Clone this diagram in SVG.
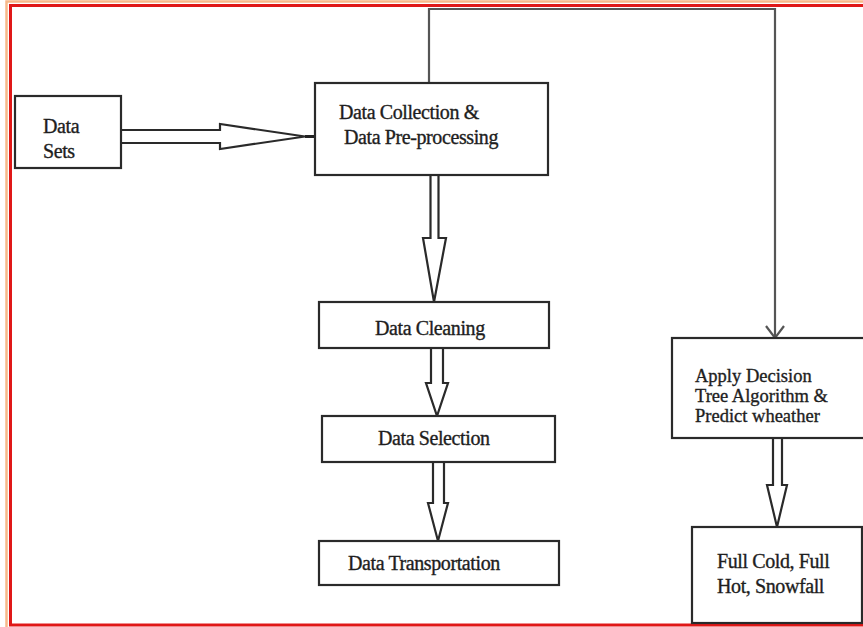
<svg xmlns="http://www.w3.org/2000/svg" width="863" height="627" viewBox="0 0 863 627">
<style>
.box{fill:#fff;stroke:#2a2a2a;stroke-width:2.2}
.t{font-family:"Liberation Serif","Times New Roman",serif;font-size:20px;fill:#1e1e1e;stroke:#1e1e1e;stroke-width:0.35;letter-spacing:-0.4px}
.s{font-size:18.5px;letter-spacing:0}
.arr{fill:#fff;stroke:#2a2a2a;stroke-width:2.2;stroke-linejoin:miter}
.ln{fill:none;stroke:#555;stroke-width:2.2}
</style>
<rect width="863" height="627" fill="#fff"/>
<g id="frame">
<rect x="6.5" y="1.5" width="870" height="630" fill="none" stroke="#f7b98a" stroke-width="2.5"/>
<rect x="10.5" y="5.5" width="870" height="619.5" fill="none" stroke="#e01818" stroke-width="3"/>
</g>
<g id="connectors">
<path class="ln" d="M429,82 V9 H775 V337"/>
<path class="ln" d="M766,326 L775,338 L784,326"/>
<path class="arr" d="M121,130 H220 V124 L305,136.5 L220,149 V143 H121"/>
<path d="M305,136.5 H315" stroke="#222" stroke-width="3"/>
<path class="arr" d="M430.5,175 V238 H423 L434,302 L446,238 H438.5 V175"/>
<path class="arr" d="M431,348 V383 H426 L437,416 L448,383 H443 V348"/>
<path class="arr" d="M433,462 V503 H428 L438,541 L448,503 H444 V462"/>
<path class="arr" d="M773,438 V485 H767 L777,527 L787,485 H782 V438"/>
</g>
<g id="data-sets">
<rect class="box" x="15" y="96" width="106" height="72"/>
<text class="t" x="43" y="133">Data</text>
<text class="t" x="43" y="158">Sets</text>
</g>
<g id="data-collection">
<rect class="box" x="315" y="83" width="233" height="92"/>
<text class="t" x="339" y="119">Data Collection &amp;</text>
<text class="t" x="344" y="144">Data Pre-processing</text>
</g>
<g id="data-cleaning">
<rect class="box" x="319" y="302" width="230" height="46"/>
<text class="t" x="375" y="335">Data Cleaning</text>
</g>
<g id="data-selection">
<rect class="box" x="322" y="416" width="233" height="46"/>
<text class="t" x="378" y="445">Data Selection</text>
</g>
<g id="data-transportation">
<rect class="box" x="319" y="541" width="240" height="44"/>
<text class="t" x="348" y="570">Data Transportation</text>
</g>
<g id="apply-decision">
<rect class="box" x="672" y="338" width="200" height="100"/>
<text class="t s" x="695" y="382">Apply Decision</text>
<text class="t s" x="695" y="402">Tree Algorithm &amp;</text>
<text class="t s" x="695" y="422">Predict wheather</text>
</g>
<g id="result">
<rect class="box" x="692" y="527" width="170" height="96"/>
<text class="t" x="717" y="568">Full Cold, Full</text>
<text class="t" x="717" y="593">Hot, Snowfall</text>
</g>
</svg>
